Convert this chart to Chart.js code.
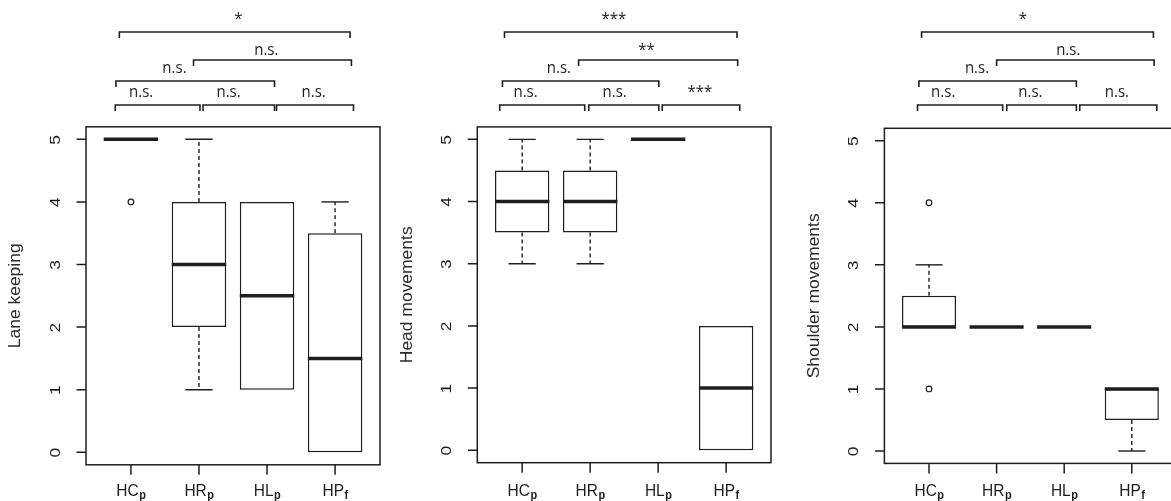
<!DOCTYPE html>
<html><head><meta charset="utf-8">
<script src="https://cdn.jsdelivr.net/npm/chart.js@4.4.0/dist/chart.umd.min.js"></script>
<style>
html,body{margin:0;padding:0;background:#fff;overflow:hidden;width:1171px;height:501px;position:relative}
canvas{position:absolute;top:0}
</style></head><body>
<canvas id="c1" width="390" height="501" style="left:0px"></canvas>
<canvas id="c2" width="390" height="501" style="left:390px"></canvas>
<canvas id="c3" width="410" height="501" style="left:780px"></canvas>
<script>
// ---------- data ----------
const categories = ['HC', 'HR', 'HL', 'HP'];
const subscripts = ['p', 'p', 'p', 'f'];
const yTicks = [0, 1, 2, 3, 4, 5];

const laneMin = [5, 1, 1, 0];
const laneQ1  = [5, 2, 1, 0];
const laneMed = [5, 3, 2.5, 1.5];
const laneQ3  = [5, 4, 4, 3.5];
const laneMax = [5, 5, 4, 4];
const laneOut = [[4], [], [], []];

const headMin = [3, 3, 5, 0];
const headQ1  = [3.5, 3.5, 5, 0];
const headMed = [4, 4, 5, 1];
const headQ3  = [4.5, 4.5, 5, 2];
const headMax = [5, 5, 5, 2];
const headOut = [[], [], [], []];

const shMin = [2, 2, 2, 0];
const shQ1  = [2, 2, 2, 0.5];
const shMed = [2, 2, 2, 1];
const shQ3  = [2.5, 2, 2, 1];
const shMax = [3, 2, 2, 1];
const shOut = [[4, 1], [], [], []];

// pairwise comparisons (category indices) and significance labels
const comparisons = [[0, 1], [1, 2], [2, 3], [0, 2], [1, 3], [0, 3]];
const laneSig = ['n.s.', 'n.s.', 'n.s.', 'n.s.', 'n.s.', '*'];
const headSig = ['n.s.', 'n.s.', '***', 'n.s.', '**', '***'];
const shSig   = ['n.s.', 'n.s.', 'n.s.', 'n.s.', 'n.s.', '*'];

// ---------- layout (annotation geometry, not data) ----------
const rowOf = [0, 0, 0, 1, 2, 3];
const rowLineY = [105, 81, 60, 32];
const rowTextY = [96.5, 72.5, 55, 24];
const panels = [
  { id: 'c1', title: 'Lane keeping', min: laneMin, q1: laneQ1, med: laneMed, q3: laneQ3, max: laneMax, out: laneOut, sig: laneSig,
    pad: { left: 86, right: 10, top: 126.8, bottom: 36.2 },
    spans: [[-0.23, 1.015], [1.06, 2.11], [2.14, 3.27], [-0.22, 2.11], [0.92, 3.24], [-0.17, 3.22]],
    labelX: [0.15, 1.435, 2.685, 0.64, 1.99, 1.58] },
  { id: 'c2', title: 'Head movements', min: headMin, q1: headQ1, med: headMed, q3: headQ3, max: headMax, out: headOut, sig: headSig,
    pad: { left: 87.3, right: 9, top: 126.9, bottom: 38.3 },
    spans: [[-0.33, 0.92], [0.98, 2.01], [2.06, 3.20], [-0.29, 2.01], [0.83, 3.17], [-0.26, 3.16]],
    labelX: [0.05, 1.36, 2.615, 0.54, 1.83, 1.35] },
  { id: 'c3', title: 'Shoulder movements', min: shMin, q1: shQ1, med: shMed, q3: shQ3, max: shMax, out: shOut, sig: shSig,
    pad: { left: 104.4, right: 13.6, top: 128.3, bottom: 37.6 },
    spans: [[-0.17, 1.09], [1.15, 2.18], [2.23, 3.37], [-0.15, 2.18], [1.00, 3.33], [-0.11, 3.32]],
    labelX: [0.21, 1.50, 2.78, 0.71, 2.06, 1.39] }
];

const INK = '#1e1e1e';
const AXIS_FONT = '"Liberation Sans", Arial, sans-serif';
const NOTE_FONT = '"Open Sans", "Noto Sans", sans-serif';
const STRETCH = 1.12; // the original figure is slightly taller than wide

function text(ctx, str, x, y, rotated) {
  ctx.save();
  ctx.translate(x, y);
  ctx.scale(1, STRETCH);
  if (rotated) ctx.rotate(-Math.PI / 2);
  ctx.fillText(str, 0, 0);
  ctx.restore();
}

const boxPlugin = {
  id: 'boxplotExtras',
  afterDatasetsDraw(chart) {
    const p = chart.options.plugins.boxplotExtras;
    const xs = chart.scales.x, ys = chart.scales.y;
    const ctx = chart.ctx;
    ctx.save();
    ctx.strokeStyle = INK;
    categories.forEach((c, i) => {
      const xc = xs.getPixelForValue(i + 1);
      const capL = xs.getPixelForValue(i + 1 - 0.2), capR = xs.getPixelForValue(i + 1 + 0.2);
      const boxL = xs.getPixelForValue(i + 1 - 0.4), boxR = xs.getPixelForValue(i + 1 + 0.4);
      ctx.lineWidth = 1.4;
      ctx.setLineDash([4, 3]);
      ctx.beginPath();
      if (p.max[i] > p.q3[i]) { ctx.moveTo(xc, ys.getPixelForValue(p.q3[i])); ctx.lineTo(xc, ys.getPixelForValue(p.max[i])); }
      if (p.min[i] < p.q1[i]) { ctx.moveTo(xc, ys.getPixelForValue(p.q1[i])); ctx.lineTo(xc, ys.getPixelForValue(p.min[i])); }
      ctx.stroke();
      ctx.setLineDash([]);
      ctx.beginPath();
      if (p.max[i] > p.q3[i]) { const y = ys.getPixelForValue(p.max[i]); ctx.moveTo(capL, y); ctx.lineTo(capR, y); }
      if (p.min[i] < p.q1[i]) { const y = ys.getPixelForValue(p.min[i]); ctx.moveTo(capL, y); ctx.lineTo(capR, y); }
      ctx.stroke();
      ctx.lineWidth = 3.5;
      ctx.lineCap = 'butt';
      ctx.beginPath();
      const ym = ys.getPixelForValue(p.med[i]);
      ctx.moveTo(boxL, ym); ctx.lineTo(boxR, ym);
      ctx.stroke();
    });
    ctx.restore();
  },
  afterDraw(chart) {
    const p = chart.options.plugins.boxplotExtras;
    const xs = chart.scales.x, ys = chart.scales.y;
    const ctx = chart.ctx;
    const a = chart.chartArea;
    ctx.save();
    ctx.strokeStyle = INK;
    ctx.fillStyle = INK;
    ctx.lineWidth = 1.5;
    ctx.strokeRect(a.left, a.top, a.right - a.left, a.bottom - a.top);
    // y ticks & labels
    ctx.beginPath();
    yTicks.forEach(v => { const y = ys.getPixelForValue(v); ctx.moveTo(a.left - 9.5, y); ctx.lineTo(a.left, y); });
    ctx.stroke();
    ctx.font = '15.5px ' + AXIS_FONT;
    ctx.textAlign = 'center'; ctx.textBaseline = 'middle';
    yTicks.forEach(v => text(ctx, String(v), a.left - 30.5, ys.getPixelForValue(v) + 0.5, true));
    // y title
    ctx.fillStyle = '#2a2a2a';
    ctx.font = '15.6px ' + AXIS_FONT;
    text(ctx, p.title, a.left - 70, (a.top + a.bottom) / 2, true);
    // x ticks & labels
    ctx.fillStyle = INK;
    ctx.beginPath();
    categories.forEach((c, i) => { const x = xs.getPixelForValue(i + 1); ctx.moveTo(x, a.bottom); ctx.lineTo(x, a.bottom + 10); });
    ctx.stroke();
    ctx.textBaseline = 'alphabetic'; ctx.textAlign = 'left';
    categories.forEach((c, i) => {
      const x = xs.getPixelForValue(i + 1);
      ctx.font = '15.5px ' + AXIS_FONT; const w1 = ctx.measureText(c).width;
      ctx.font = 'bold 11px ' + AXIS_FONT; const w2 = ctx.measureText(subscripts[i]).width;
      const x0 = x - (w1 + w2) / 2;
      ctx.font = '15.5px ' + AXIS_FONT; text(ctx, c, x0, 495.5, false);
      ctx.font = 'bold 11px ' + AXIS_FONT; text(ctx, subscripts[i], x0 + w1 + 0.5, 498.5, false);
    });
    // significance brackets
    ctx.lineWidth = 1.6;
    ctx.font = '15px ' + NOTE_FONT;
    ctx.textAlign = 'center';
    comparisons.forEach((cmp, k) => {
      const r = rowOf[k];
      const x1 = xs.getPixelForValue(p.spans[k][0] + 1), x2 = xs.getPixelForValue(p.spans[k][1] + 1);
      const y = rowLineY[r];
      ctx.beginPath();
      ctx.moveTo(x1, y + 6); ctx.lineTo(x1, y); ctx.lineTo(x2, y); ctx.lineTo(x2, y + 6);
      ctx.stroke();
      text(ctx, p.sig[k], xs.getPixelForValue(p.labelX[k] + 1), rowTextY[r], false);
    });
    ctx.restore();
  }
};

panels.forEach(p => {
  const boxData = categories.map((c, i) => ({ x: i + 1, y: [p.q1[i], p.q3[i]] }));
  const outData = [];
  p.out.forEach((arr, i) => arr.forEach(v => outData.push({ x: i + 1, y: v })));
  new Chart(document.getElementById(p.id), {
    type: 'bar',
    data: {
      datasets: [
        { type: 'bar', data: boxData, backgroundColor: '#fff', borderColor: INK, borderWidth: 1.5,
          borderSkipped: false, categoryPercentage: 1, barPercentage: 0.8, grouped: false },
        { type: 'scatter', data: outData, pointRadius: 2.8, pointBackgroundColor: '#fff',
          pointBorderColor: INK, pointBorderWidth: 1.2 }
      ]
    },
    options: {
      responsive: false, animation: false, events: [],
      layout: { padding: p.pad },
      plugins: { legend: { display: false }, tooltip: { enabled: false }, boxplotExtras: p },
      scales: {
        x: { type: 'linear', min: 0.34, max: 4.66, offset: false, display: false, ticks: { stepSize: 1, includeBounds: false } },
        y: { type: 'linear', min: -0.2, max: 5.2, display: false }
      }
    },
    plugins: [boxPlugin]
  });
});
</script>
</body></html>
